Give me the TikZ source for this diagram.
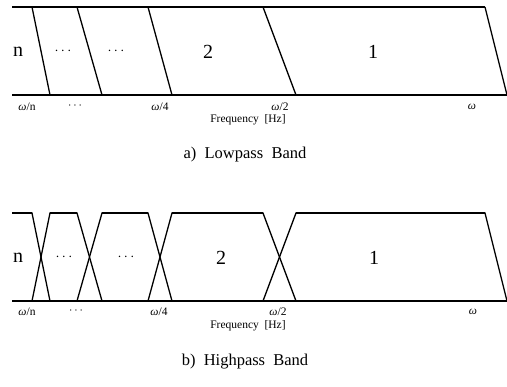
\documentclass[tikz,border=0pt]{standalone}
\usepackage{fontspec}
\setmainfont{Liberation Serif}
\begin{document}
\begin{tikzpicture}[x=1pt,y=-1pt,
  rail/.style={line width=1.6pt},
  edge/.style={line width=1.3pt},
  lbl/.style={font=\fontsize{20}{22}\selectfont, inner sep=0},
  dotsl/.style={font=\fontsize{15}{17}\selectfont, inner sep=0},
  tk/.style={font=\fontsize{11.5}{13}\selectfont, inner sep=0},
  axis/.style={font=\fontsize{11.5}{13}\selectfont, inner sep=0},
  captext/.style={font=\fontsize{16.5}{19}\selectfont, inner sep=0}]
\useasboundingbox (0,0) rectangle (507,387);
% ---------- a) Lowpass ----------
\draw[rail] (12,7) -- (485,7);
\draw[rail] (12,95) -- (507,95);
\foreach \a/\b in {32/50,77/102,148/172,263/296,485/507}
  \draw[edge] (\a,7) -- (\b,95);
\node[lbl] (an) at (18,52) {n};
\node[dotsl] (ad1) at (63,51) {$\cdots$};
\node[dotsl] (ad2) at (116,51) {$\cdots$};
\node[lbl] (a2) at (208,52) {2};
\node[lbl] (a1) at (373,52) {1};
\node[tk] (atn) at (27,106.5) {\itshape ω\upshape/n};
\node[tk] (atd) at (75,105.5) {$\cdots$};
\node[tk] (at4) at (160,106.5) {\itshape ω\upshape/4};
\node[tk] (at2) at (280,106.5) {\itshape ω\upshape/2};
\node[tk] (atw) at (472,106.5) {\itshape ω};
\node[axis] (af) at (248,120) {Frequency\ \ [Hz]};
\node[captext] (acap) at (245,155) {a)\ \ Lowpass\ \ Band};
% ---------- b) Highpass ----------
\draw[rail] (12,301) -- (507,301);
\draw[edge] (12,213) -- (32,213) -- (50,301);
\draw[edge] (32,301) -- (50,213) -- (77,213) -- (102,301);
\draw[edge] (77,301) -- (102,213) -- (148,213) -- (172,301);
\draw[edge] (148,301) -- (172,213) -- (263,213) -- (296,301);
\draw[edge] (263,301) -- (296,213) -- (485,213) -- (507,301);
\draw[rail] (12,213) -- (32,213) (50,213) -- (77,213) (102,213) -- (148,213) (172,213) -- (263,213) (296,213) -- (485,213);
\node[lbl] (bn) at (18,258) {n};
\node[dotsl] (bd1) at (64,257) {$\cdots$};
\node[dotsl] (bd2) at (126,257) {$\cdots$};
\node[lbl] (b2) at (221,258) {2};
\node[lbl] (b1) at (374,258) {1};
\node[tk] (btn) at (27,312) {\itshape ω\upshape/n};
\node[tk] (btd) at (76,311) {$\cdots$};
\node[tk] (bt4) at (159,312) {\itshape ω\upshape/4};
\node[tk] (bt2) at (278,312) {\itshape ω\upshape/2};
\node[tk] (btw) at (473,312) {\itshape ω};
\node[axis] (bf) at (248,325.5) {Frequency\ \ [Hz]};
\node[captext] (bcap) at (245,362) {b)\ \ Highpass\ \ Band};
\end{tikzpicture}
\end{document}
